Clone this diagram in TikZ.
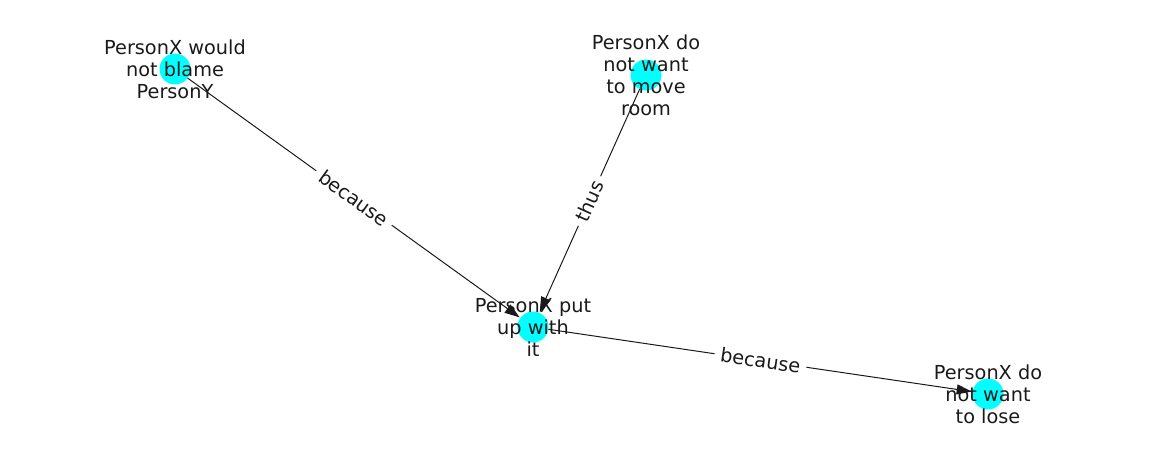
\documentclass[tikz,border=0pt]{standalone}
\usepackage{fontspec}
\setmainfont{DejaVu Sans}
\usetikzlibrary{arrows.meta}
\definecolor{nodecyan}{RGB}{0,255,255}
\definecolor{inkgray}{RGB}{26,26,26}
\tikzset{
  vertex/.style={circle, fill=nodecyan, draw=none, minimum size=31pt, inner sep=0pt, outer sep=0pt},
  vlabel/.style={align=center, inner sep=0pt, text=inkgray, font=\fontsize{19.3pt}{22pt}\selectfont},
  elabel/.style={midway, sloped, fill=white, inner xsep=6pt, inner ysep=3pt, text=inkgray, font=\fontsize{19.3pt}{22pt}\selectfont},
  link/.style={draw=inkgray, line width=1pt, -{Triangle[length=15pt,width=10pt]}, shorten >=1pt}
}
\begin{document}
\begin{tikzpicture}[x=1pt,y=-1pt]
\useasboundingbox (0,0) rectangle (1162,462);
\node[vertex] (a) at (175,69) {};
\node[vertex] (b) at (646,75) {};
\node[vertex] (c) at (533,327) {};
\node[vertex] (d) at (988,394) {};
\draw[link] (a) -- node[elabel] (la) {because} (c);
\draw[link] (b) -- node[elabel] (lb) {thus} (c);
\draw[link] (c) -- node[elabel] (lc) {because} (d);
\node[vlabel] (ta) at (a.center) {PersonX would\\not blame\\PersonY};
\node[vlabel] (tb) at (b.center) {PersonX do\\not want\\to move\\room};
\node[vlabel] (tc) at (c.center) {PersonX put\\up with\\it};
\node[vlabel] (td) at (d.center) {PersonX do\\not want\\to lose};
\end{tikzpicture}
\end{document}
